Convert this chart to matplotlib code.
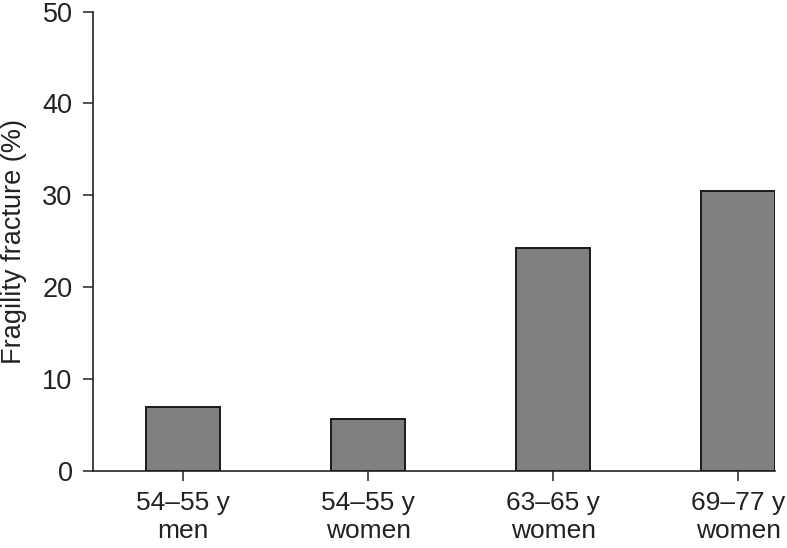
import matplotlib
matplotlib.use("Agg")
import matplotlib.pyplot as plt
import numpy as np

# data
groups = ["54\u201355 y\nmen", "54\u201355 y\nwomen", "63\u201365 y\nwomen", "69\u201377 y\nwomen"]
fracture_pct = [7.0, 5.65, 24.3, 30.5]
y_ticks = [0, 10, 20, 30, 40, 50]

plt.rcParams['font.family'] = ['Liberation Sans', 'DejaVu Sans']

fig = plt.figure(figsize=(7.87, 5.48), dpi=100)
ax = fig.add_axes([0.1178, 0.1405, 0.867, 0.8385])

x = np.arange(len(groups))
ax.bar(x, fracture_pct, width=0.4, color="#808080", edgecolor="#1a1a1a", linewidth=1.4, zorder=2)

ax.set_xlim(-0.49, 3.2)
ax.set_ylim(0, 50)
ax.set_yticks(y_ticks)
ax.set_xticks(x)
ax.set_xticklabels(groups, linespacing=1.22)

for s in ["top", "right"]:
    ax.spines[s].set_visible(False)
for s in ["left", "bottom"]:
    ax.spines[s].set_linewidth(1.2)
    ax.spines[s].set_color("#222222")

ax.tick_params(axis="both", direction="out", length=7.5, width=1.1, color="#222222",
               labelsize=19.5, labelcolor="#222222")
ax.tick_params(axis="y", pad=7)
ax.tick_params(axis="x", pad=7, labelsize=19)

ax.set_ylabel("Fragility fracture (%)", fontsize=19.5, color="#222222")
ax.yaxis.set_label_coords(-0.097, 0.5)

fig.savefig("out.png", dpi=100)
